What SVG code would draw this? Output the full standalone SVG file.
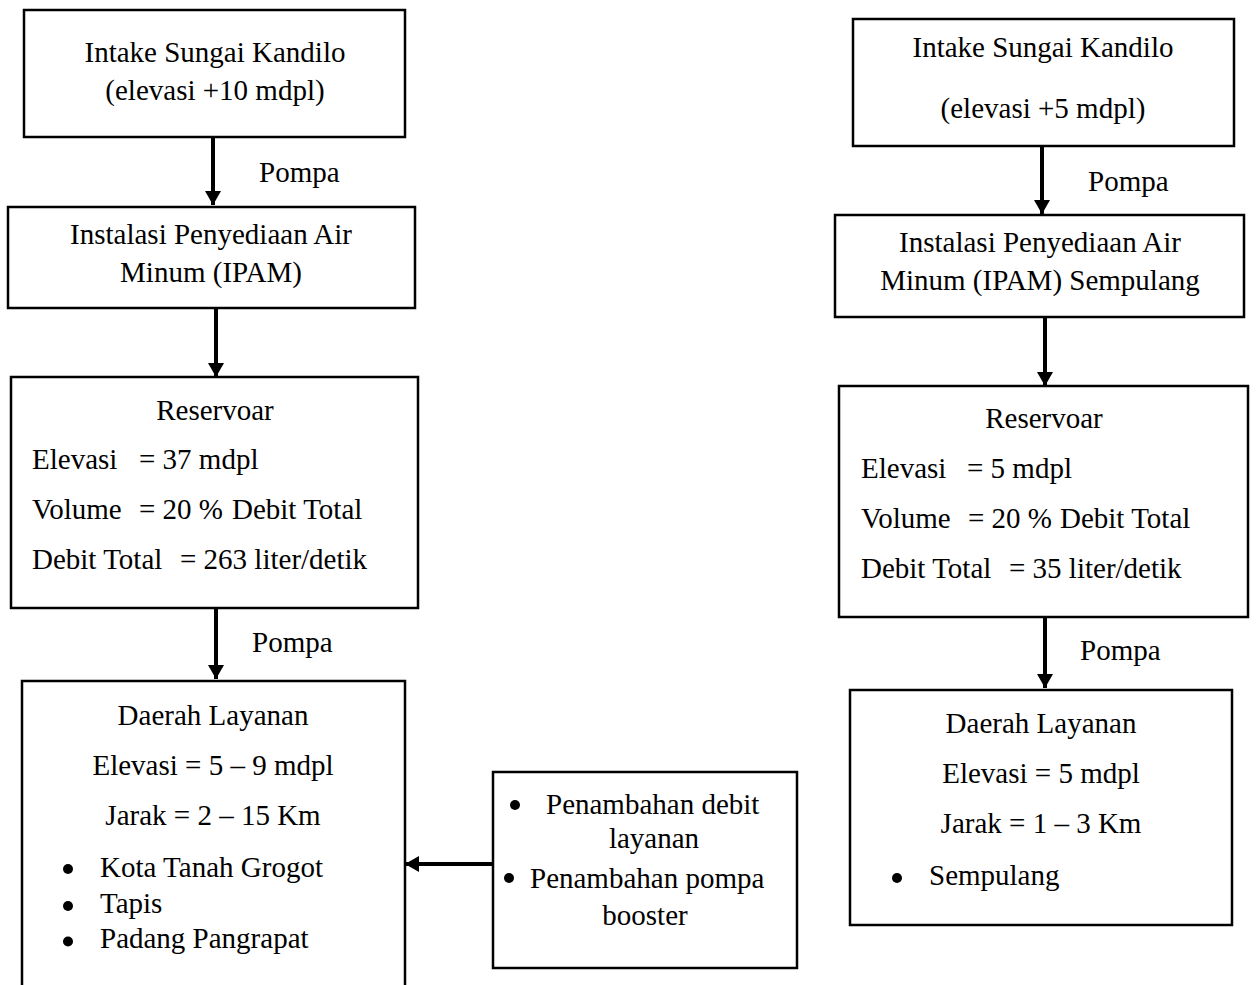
<svg xmlns="http://www.w3.org/2000/svg" width="1257" height="985" viewBox="0 0 1257 985">
<style>
text{font-family:"Liberation Serif","Times New Roman",serif;font-size:29px;fill:#000}
.c{text-anchor:middle}
.box{fill:#fff;stroke:#000;stroke-width:2.5}
.conn{stroke:#000;stroke-width:4;fill:none}
.dot{fill:#000}
</style>
<defs>
<marker id="ah" markerUnits="userSpaceOnUse" markerWidth="15" markerHeight="16" refX="14" refY="8" orient="auto">
<path d="M0,0 L14,8 L0,16 z" fill="#000"/>
</marker>
</defs>
<rect width="1257" height="985" fill="#fff"/>

<g id="connectors">
<line class="conn" x1="213" y1="137" x2="213" y2="205" marker-end="url(#ah)"/>
<line class="conn" x1="216" y1="308" x2="216" y2="377" marker-end="url(#ah)"/>
<line class="conn" x1="216" y1="608" x2="216" y2="679" marker-end="url(#ah)"/>
<line class="conn" x1="493" y1="864" x2="405" y2="864" marker-end="url(#ah)"/>
<line class="conn" x1="1042" y1="146" x2="1042" y2="214" marker-end="url(#ah)"/>
<line class="conn" x1="1045" y1="317" x2="1045" y2="386" marker-end="url(#ah)"/>
<line class="conn" x1="1045" y1="617" x2="1045" y2="688" marker-end="url(#ah)"/>
<text x="259" y="182">Pompa</text>
<text x="252" y="652">Pompa</text>
<text x="1088" y="191">Pompa</text>
<text x="1080" y="660">Pompa</text>
</g>

<g id="intake-left">
<rect class="box" x="24" y="10" width="381" height="127"/>
<text class="c" x="215" y="62">Intake Sungai Kandilo</text>
<text class="c" x="215" y="100">(elevasi +10 mdpl)</text>
</g>

<g id="ipam-left">
<rect class="box" x="8" y="207" width="407" height="101"/>
<text class="c" x="211" y="244">Instalasi Penyediaan Air</text>
<text class="c" x="211" y="282">Minum (IPAM)</text>
</g>

<g id="reservoar-left">
<rect class="box" x="11" y="377" width="407" height="231"/>
<text class="c" x="215" y="420">Reservoar</text>
<text x="32" y="469">Elevasi<tspan x="139">= 37 mdpl</tspan></text>
<text x="32" y="519">Volume<tspan x="139">= 20 %</tspan><tspan x="232">Debit Total</tspan></text>
<text x="32" y="569">Debit Total<tspan x="180">= 263 liter/detik</tspan></text>
</g>

<g id="layanan-left">
<path class="box" d="M22,1000 V681 H405 V1000"/>
<text class="c" x="213" y="725">Daerah Layanan</text>
<text class="c" x="213" y="775">Elevasi = 5 – 9 mdpl</text>
<text class="c" x="213" y="825">Jarak = 2 – 15 Km</text>
<circle class="dot" cx="68" cy="869" r="5"/>
<text x="100" y="877">Kota Tanah Grogot</text>
<circle class="dot" cx="68" cy="906" r="5"/>
<text x="100" y="913">Tapis</text>
<circle class="dot" cx="68" cy="941.5" r="5"/>
<text x="100" y="948">Padang Pangrapat</text>
</g>

<g id="penambahan">
<rect class="box" x="493" y="772" width="304" height="196"/>
<circle class="dot" cx="515" cy="805" r="5"/>
<text x="546" y="814">Penambahan debit</text>
<text class="c" x="654" y="848">layanan</text>
<circle class="dot" cx="509" cy="878" r="5"/>
<text x="530" y="888">Penambahan pompa</text>
<text class="c" x="645" y="925">booster</text>
</g>

<g id="intake-right">
<rect class="box" x="853" y="19" width="381" height="127"/>
<text class="c" x="1043" y="57">Intake Sungai Kandilo</text>
<text class="c" x="1043" y="118">(elevasi +5 mdpl)</text>
</g>

<g id="ipam-right">
<rect class="box" x="835" y="215" width="409" height="102"/>
<text class="c" x="1040" y="252">Instalasi Penyediaan Air</text>
<text class="c" x="1040" y="290">Minum (IPAM) Sempulang</text>
</g>

<g id="reservoar-right">
<rect class="box" x="839" y="386" width="409" height="231"/>
<text class="c" x="1044" y="428">Reservoar</text>
<text x="861" y="478">Elevasi<tspan x="967">= 5 mdpl</tspan></text>
<text x="861" y="528">Volume<tspan x="968">= 20 %</tspan><tspan x="1060">Debit Total</tspan></text>
<text x="861" y="578">Debit Total<tspan x="1009">= 35 liter/detik</tspan></text>
</g>

<g id="layanan-right">
<rect class="box" x="850" y="690" width="382" height="235"/>
<text class="c" x="1041" y="733">Daerah Layanan</text>
<text class="c" x="1041" y="783">Elevasi = 5 mdpl</text>
<text class="c" x="1041" y="833">Jarak = 1 – 3 Km</text>
<circle class="dot" cx="897" cy="878" r="5"/>
<text x="929" y="885">Sempulang</text>
</g>
</svg>
